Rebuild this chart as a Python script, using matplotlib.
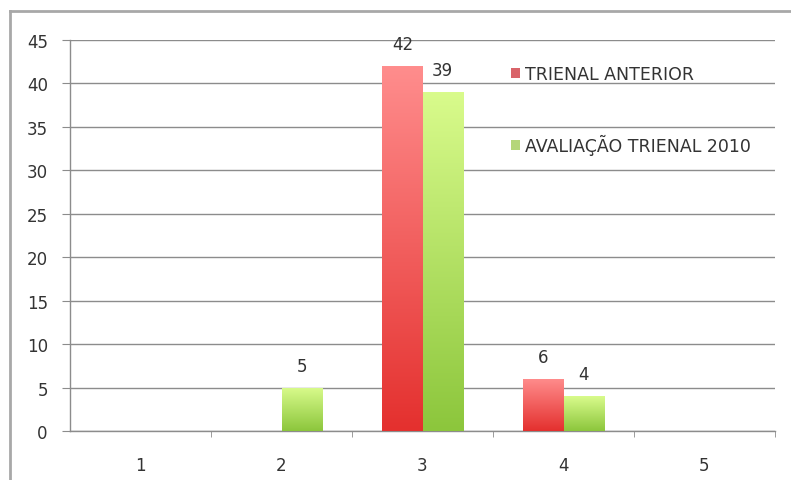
import matplotlib.pyplot as plt
import numpy as np
from matplotlib.colors import LinearSegmentedColormap
from matplotlib.patches import Patch
from matplotlib.lines import Line2D

categories = ['1', '2', '3', '4', '5']
anterior = [0, 0, 42, 6, 0]
trienal_2010 = [0, 5, 39, 4, 0]
series_names = ['TRIENAL ANTERIOR', 'AVALIAÇÃO TRIENAL 2010']

RED_CMAP = LinearSegmentedColormap.from_list('red', ['#e4302e', '#ff8d8d'])
GREEN_CMAP = LinearSegmentedColormap.from_list('green', ['#8cc63c', '#d9fb8c'])
TEXT = '#333333'
GRID = '#8c8c8c'

fig = plt.figure(figsize=(7.91, 4.81), dpi=100)
ax = fig.add_axes([70 / 791, 49 / 481, 705 / 791, 391 / 481])

x = np.arange(len(categories))
width = 0.284


def gradient_bars(xpos, values, cmap):
    bars = ax.bar(xpos, values, width, color='none', edgecolor='none', zorder=3)
    grad = np.linspace(0, 1, 256).reshape(-1, 1)
    for rect in bars:
        h = rect.get_height()
        if h <= 0:
            continue
        x0 = rect.get_x()
        im = ax.imshow(grad, cmap=cmap, aspect='auto', origin='lower',
                       extent=[x0, x0 + rect.get_width(), 0, h], zorder=3)
        im.set_clip_path(rect)
    return bars


gradient_bars(x - width / 2, anterior, RED_CMAP)
gradient_bars(x + width / 2, trienal_2010, GREEN_CMAP)

# value labels
for xs, vals in ((x - width / 2, anterior), (x + width / 2, trienal_2010)):
    for xi, v in zip(xs, vals):
        if v > 0:
            ax.text(xi, v + 1.5, str(v), ha='center', va='bottom',
                    fontsize=12, color=TEXT, zorder=4)

ax.set_xlim(-0.5, len(categories) - 0.5)
ax.set_ylim(0, 45)
ax.set_yticks(np.arange(0, 46, 5))
ax.yaxis.grid(True, color=GRID, linewidth=1.0, zorder=0)
ax.set_axisbelow(True)

ax.set_xticks(x)
ax.set_xticklabels(categories)
ax.set_xticks(np.arange(0.5, len(categories), 1.0), minor=True)
ax.tick_params(axis='x', which='major', length=0, pad=18, labelsize=12, labelcolor=TEXT)
ax.tick_params(axis='x', which='minor', length=4, color=GRID, direction='out')
ax.tick_params(axis='y', length=6, color=GRID, pad=10, labelsize=12, labelcolor=TEXT)

for side in ('top', 'right'):
    ax.spines[side].set_visible(False)
for side in ('left', 'bottom'):
    ax.spines[side].set_color(GRID)
    ax.spines[side].set_linewidth(1.0)

handles = [Patch(facecolor='#d9646a', edgecolor='none'),
           Patch(facecolor='#b5d67a', edgecolor='none')]
ax.legend(handles, series_names, loc='upper left', bbox_to_anchor=(0.603, 0.976),
          frameon=False, fontsize=12.5, labelcolor=TEXT, handlelength=0.55,
          handleheight=0.55, handletextpad=0.3, labelspacing=2.95)

# outer chart frame (top and left edges)
fig.add_artist(Line2D([10 / 791, 1.0], [1 - 12 / 481, 1 - 12 / 481],
                      transform=fig.transFigure, color='#a8a8a8', linewidth=2))
fig.add_artist(Line2D([10 / 791, 10 / 791], [0.0, 1 - 12 / 481],
                      transform=fig.transFigure, color='#a8a8a8', linewidth=2))

fig.savefig('out.png', dpi=100)
